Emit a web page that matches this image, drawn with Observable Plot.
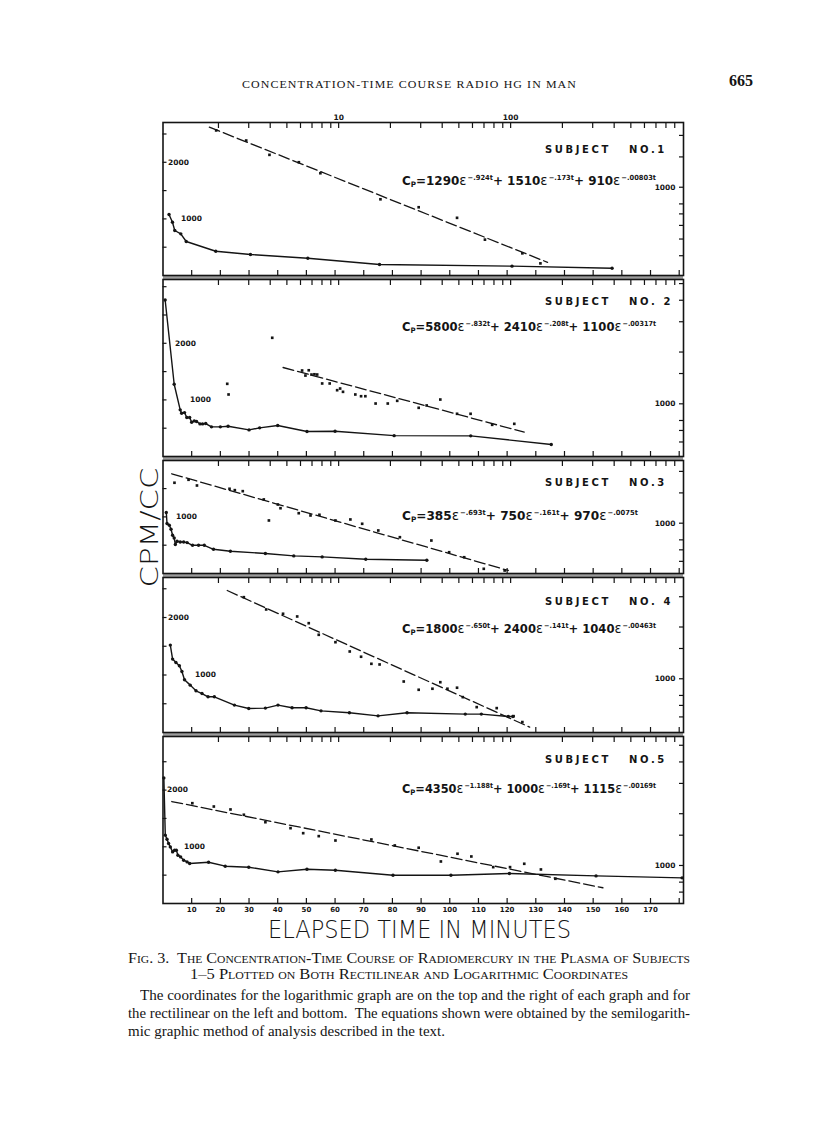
<!DOCTYPE html>
<html><head><meta charset="utf-8">
<script src="https://cdn.jsdelivr.net/npm/d3@7"></script>
<script src="https://cdn.jsdelivr.net/npm/@observablehq/plot@0.6"></script>
<style>
html,body{margin:0;padding:0;background:#fff;overflow:hidden;}
#page{position:relative;width:816px;height:1130px;overflow:hidden;color:#141414;font-family:"Liberation Serif",serif;}
#page svg{position:absolute;left:0;max-width:none;}
.t{position:absolute;white-space:nowrap;line-height:1;}
.eq sup{font-size:7px;vertical-align:0;position:relative;top:-5px;margin-left:1px;}
.eq sub{font-size:7.5px;vertical-align:0;position:relative;top:2px;}
.eq .ep{font-size:14px;font-weight:normal;}
</style></head>
<body><div id="page"></div>
<script>
// ---------- DATA ----------
// Rectilinear series (bottom x: minutes, left y: CPM/CC)
const lin1T = [2.1, 3.3, 4.1, 6.2, 8.1, 18.4, 30.5, 50.5, 75.5, 121.7, 156.6];
const lin1C = [1078, 941, 795, 736, 601, 429, 371, 306, 194, 165, 129];
const lin2T = [0.75, 3.9, 6.0, 6.5, 7.5, 8.3, 9.3, 10.0, 10.9, 11.7, 12.9, 13.8, 14.9, 16.9, 20.0, 22.7, 30.0, 33.7, 40.0, 50.2, 60.0, 80.6, 107.3, 135.4];
const lin2C = [2765, 1276, 824, 765, 776, 688, 688, 606, 629, 618, 576, 576, 582, 524, 524, 535, 470, 506, 547, 441, 447, 368, 365, 212];
const lin3T = [1.15, 1.4, 2.2, 2.8, 3.35, 3.9, 4.3, 4.9, 6.0, 7.2, 8.4, 10.3, 12.4, 14.4, 17.6, 23.5, 35.7, 45.6, 55.5, 70.7, 92.0];
const lin3C = [1078, 883, 852, 781, 675, 627, 511, 569, 557, 557, 546, 498, 498, 498, 428, 393, 353, 311, 293, 251, 233];
const lin4T = [2.55, 3.35, 4.5, 5.7, 6.6, 7.5, 9.5, 11.5, 13.6, 15.7, 17.9, 24.9, 29.9, 35.7, 40.1, 45.0, 49.9, 55.1, 65.0, 75.0, 85.1, 105.4, 111.0, 120.4, 122.0];
const lin4C = [1520, 1277, 1217, 1160, 1061, 917, 824, 725, 678, 621, 621, 477, 417, 424, 477, 430, 430, 377, 343, 290, 343, 320, 320, 278, 278];
const lin5T = [0.3, 0.8, 1.4, 1.95, 2.55, 3.35, 4.05, 4.65, 5.2, 6.15, 7.2, 8.4, 9.3, 15.9, 21.7, 29.9, 40.1, 50.2, 60.1, 80.2, 100.4, 120.8, 151.0, 181.0];
const lin5C = [2215, 1205, 1134, 1058, 998, 910, 940, 940, 852, 822, 764, 734, 705, 728, 658, 640, 558, 605, 587, 499, 499, 529, 487, 452];

// Logarithmic series (top x: minutes, log; right y: CPM/CC, log)
const log1T = [1.94, 2.90, 3.96, 5.87, 7.83, 17.5, 29.2, 48.8, 70.9, 117, 149];
const log1C = [2138, 1868, 1542, 1397, 1206, 851, 765, 664, 496, 413, 361];
const log2T = [2.25, 2.29, 4.11, 6.13, 6.41, 6.70, 6.95, 7.23, 7.50, 8.02, 8.87, 9.80, 10.2, 10.6, 12.5, 13.5, 14.3, 16.4, 19.3, 21.9, 29.2, 32.5, 39.0, 48.8, 58.5, 78.1, 105];
const log2C = [1307, 1133, 2420, 1562, 1460, 1567, 1479, 1485, 1480, 1313, 1313, 1200, 1227, 1174, 1133, 1107, 1107, 1004, 1004, 1041, 948, 978, 1059, 875, 875, 755, 765];
const log3T = [1.11, 1.34, 1.50, 2.32, 2.49, 2.77, 3.67, 3.93, 4.43, 4.59, 5.86, 6.86, 7.73, 9.58, 11.7, 13.7, 17.0, 22.7, 34.6, 43.9, 53.7, 69.8, 92.3];
const log3C = [1718, 1788, 1656, 1585, 1556, 1535, 1374, 1037, 1284, 1222, 1143, 1109, 1119, 1037, 1051, 992, 907, 829, 793, 678, 634, 543, 531];
const log4T = [2.81, 3.79, 4.75, 5.74, 6.70, 7.66, 9.58, 11.6, 13.5, 15.5, 17.3, 23.9, 29.2, 35.1, 39.0, 42.9, 48.8, 52.7, 63.5, 83.0, 104, 117];
const log4C = [2982, 2530, 2388, 2303, 2105, 1802, 1632, 1441, 1343, 1222, 1211, 964, 863, 875, 955, 875, 887, 782, 684, 675, 606, 560];
const log5T = [1.41, 1.88, 2.35, 2.81, 3.75, 5.25, 6.22, 7.66, 9.58, 15.5, 21.2, 29.2, 39.3, 49.1, 59.1, 79.2, 99.2, 120, 150, 182];
const log5C = [2302, 2202, 2117, 1972, 1785, 1648, 1541, 1481, 1397, 1416, 1307, 1268, 1055, 1170, 1128, 978, 978, 1023, 948, 837];

// Fitted (dashed) lines on the logarithmic coordinates: start and end
const fit1T = [1.77, 164], fit1C = [2234, 366];
const fit2T = [4.75, 120], fit2C = [1626, 684];
const fit3T = [1.07, 96.9], fit3C = [1937, 531];
const fit4T = [2.25, 129], fit4C = [3260, 523];
const fit5T = [1.07, 344], fit5C = [2354, 742];

// Equations
const subjectNames = ["SUBJECT NO.1", "SUBJECT NO. 2", "SUBJECT NO.3", "SUBJECT NO. 4", "SUBJECT NO.5"];
const eqCoef = [[1290, 1510, 910], [5800, 2410, 1100], [385, 750, 970], [1800, 2400, 1040], [4350, 1000, 1115]];
const eqRate = [[".924", ".173", ".00803"], [".832", ".208", ".00317"], [".693", ".161", ".0075"], [".650", ".141", ".00463"], ["1.188", ".169", ".00169"]];

// Axis ticks
const linTicksX = d3.range(10, 181, 10);
const linLabelsX = d3.range(10, 171, 10);
const logTicksX = [2,3,4,5,6,7,8,9,10,20,30,40,50,60,70,80,90,100,200,300,400,500,600,700,800,900];
const logLabelsX = [10, 100];
const logTicksY = [300,400,500,600,700,800,1000,1500,2000,3000,4000,5000];

// Text
const headerText = "CONCENTRATION-TIME COURSE RADIO HG IN MAN";
const pageNumber = "665";
const yTitle = "CPM/CC";
const xTitle = "ELAPSED TIME IN MINUTES";
const caption1 = "Fig. 3.&nbsp; The Concentration-Time Course of Radiomercury in the Plasma of Subjects";
const caption2 = "1–5 Plotted on Both Rectilinear and Logarithmic Coordinates";
const body = [
  "The coordinates for the logarithmic graph are on the top and the right of each graph and for",
  "the rectilinear on the left and bottom.&nbsp; The equations shown were obtained by the semilogarith-",
  "mic graphic method of analysis described in the text."
];

// ---------- LAYOUT ----------
const W = 816, ML = 162.5, MR = 133, MT = 20, MB = 24;
const panels = [
  {top:122, bottom:275, linMax:2703, logMin:307, logMax:2377, labs:[[2000,5],[1000,18]], subjY:149, eqY:178},
  {top:279, bottom:456, linMax:3127, logMin:494, logMax:5281, labs:[[2000,12],[1000,27]], subjY:301, eqY:324},
  {top:460, bottom:573, linMax:1996, logMin:510, logMax:2314, labs:[[1000,13]], subjY:482, eqY:513},
  {top:577, bottom:732, linMax:2696, logMin:487, logMax:3881, labs:[[2000,5],[1000,32]], subjY:601, eqY:626},
  {top:736, bottom:903, linMax:2945, logMin:601, logMax:5623, labs:[[2000,4],[1000,21]], subjY:759, eqY:786}
];
const linSeries = [[lin1T,lin1C],[lin2T,lin2C],[lin3T,lin3C],[lin4T,lin4C],[lin5T,lin5C]];
const logSeries = [[log1T,log1C],[log2T,log2C],[log3T,log3C],[log4T,log4C],[log5T,log5C]];
const fitSeries = [[fit1T,fit1C],[fit2T,fit2C],[fit3T,fit3C],[fit4T,fit4C],[fit5T,fit5C]];

const ink = "#141414";
const page = document.getElementById("page");
const zip = (T, C) => T.map((t, i) => ({t, c: C[i]}));
const labFont = {fontFamily: "DejaVu Sans, sans-serif", fontWeight: "bold", fontSize: 7.5, fill: ink};
const blank = () => "";

function addText(html, css, cls = "t") {
  const d = document.createElement("div");
  d.className = cls;
  d.innerHTML = html;
  Object.assign(d.style, css);
  page.appendChild(d);
  return d;
}
function fitWidth(el, w) {
  const r = el.getBoundingClientRect().width;
  el.style.transformOrigin = "left center";
  el.style.transform = `scaleX(${w / r})`;
}

// separator bands between panels
for (let i = 0; i < panels.length - 1; i++) {
  const a = panels[i].bottom, b = panels[i + 1].top;
  addText("", {left: ML + "px", top: a + "px", width: (W - MR - ML) + "px", height: (b - a) + "px", background: "#9c9c9c"});
}

panels.forEach((p, i) => {
  const h = p.bottom - p.top + MT + MB;
  const lin = zip(...linSeries[i]);
  const logd = zip(...logSeries[i]);
  const fit = zip(...fitSeries[i]);
  const last = i === panels.length - 1;

  const linPlot = Plot.plot({
    width: W, height: h, marginLeft: ML, marginRight: MR, marginTop: MT, marginBottom: MB,
    style: {background: "transparent", overflow: "visible", fontFamily: "DejaVu Sans, sans-serif"},
    x: {type: "linear", domain: [0, 181.5]},
    y: {type: "linear", domain: [0, p.linMax]},
    marks: [
      Plot.axisX(linTicksX, {anchor: "bottom", tickSize: -5, tickFormat: blank, label: null, stroke: ink, strokeWidth: 1.2}),
      Plot.axisY(d3.range(500, p.linMax, 500), {anchor: "left", tickSize: -4, tickFormat: blank, label: null, stroke: ink, strokeWidth: 1.2}),
      ...p.labs.map(([v, dx]) => Plot.text([v], {y: d => d, text: d => String(d), frameAnchor: "left", textAnchor: "start", dx, ...labFont})),
      last ? Plot.text(linLabelsX, {x: d => d, text: d => String(d), frameAnchor: "bottom", dy: 8, ...labFont, fontSize: 7}) : null,
      Plot.line(lin, {x: "t", y: "c", stroke: ink, strokeWidth: 1.4}),
      Plot.dot(lin, {x: "t", y: "c", r: 1.7, fill: ink}),
      Plot.frame({stroke: ink, strokeWidth: 1.6})
    ]
  });
  linPlot.style.top = (p.top - MT) + "px";
  page.appendChild(linPlot);

  const logPlot = Plot.plot({
    width: W, height: h, marginLeft: ML, marginRight: MR, marginTop: MT, marginBottom: MB,
    style: {background: "transparent", overflow: "visible", fontFamily: "DejaVu Sans, sans-serif"},
    x: {type: "log", domain: [0.952, 1012]},
    y: {type: "log", domain: [p.logMin, p.logMax]},
    marks: [
      Plot.axisX(logTicksX, {anchor: "top", tickSize: -5, tickFormat: blank, label: null, stroke: ink, strokeWidth: 1.2}),
      Plot.axisY(logTicksY.filter(v => v > p.logMin * 1.05 && v < p.logMax * 0.95), {anchor: "right", tickSize: -5, tickFormat: blank, label: null, stroke: ink, strokeWidth: 1.2}),
      Plot.text([1000], {y: d => d, text: d => String(d), frameAnchor: "right", textAnchor: "end", dx: -8, ...labFont}),
      i === 0 ? Plot.text(logLabelsX, {x: d => d, text: d => String(d), frameAnchor: "top", lineAnchor: "bottom", dy: -3, ...labFont}) : null,
      Plot.line(fit, {x: "t", y: "c", stroke: ink, strokeWidth: 1.3, strokeDasharray: "11,4"}),
      Plot.dot(logd, {x: "t", y: "c", symbol: "square", r: 1.5, fill: ink})
    ]
  });
  logPlot.style.top = (p.top - MT) + "px";
  page.appendChild(logPlot);

  // annotations
  const name = subjectNames[i].replace(/ NO/, "&nbsp;&nbsp;&nbsp;NO");
  addText(name, {left: "545px", top: (p.subjY - 5) + "px", font: "bold 10px 'DejaVu Sans', sans-serif", letterSpacing: "2.6px"});
  const terms = eqCoef[i].map((c, k) => `${c}<span class="ep">ε</span><sup>−${eqRate[i][k]}t</sup>`).join("+ ");
  const e = addText(`C<sub>P</sub>=${terms}`, {left: "402px", top: (p.eqY - 6) + "px", font: "bold 12.5px 'DejaVu Sans Condensed', 'DejaVu Sans', sans-serif"}, "t eq");
  fitWidth(e, i === 2 ? 236 : 254);
});

// page furniture
const hd = addText(headerText, {left: "242px", top: "78px", font: "11px 'Liberation Serif', serif", letterSpacing: "1px"});
fitWidth(hd, 335);
addText(pageNumber, {left: "729px", top: "72px", font: "bold 16px 'Liberation Serif', serif"});

const yt = addText(yTitle, {font: "300 25px 'DejaVu Sans', sans-serif"});
const ytw = yt.getBoundingClientRect().width, yth = yt.getBoundingClientRect().height;
yt.style.left = (150 - ytw / 2) + "px";
yt.style.top = (527 - yth / 2) + "px";
yt.style.transform = `rotate(-90deg) scaleX(${120 / ytw})`;

const xt = addText(xTitle, {left: "268px", top: "916px", font: "300 24px 'DejaVu Sans', sans-serif"});
fitWidth(xt, 303);

const c1 = addText(caption1, {left: "128px", top: "951px", font: "14px 'Liberation Serif', serif", fontVariant: "small-caps"});
fitWidth(c1, 562);
const c2 = addText(caption2, {left: "190px", top: "967px", font: "14px 'Liberation Serif', serif", fontVariant: "small-caps"});
fitWidth(c2, 438);
const b1 = addText(body[0], {left: "140px", top: "987px", font: "15px 'Liberation Serif', serif"});
fitWidth(b1, 550);
const b2 = addText(body[1], {left: "128px", top: "1005px", font: "15px 'Liberation Serif', serif"});
fitWidth(b2, 562);
addText(body[2], {left: "128px", top: "1023px", font: "15px 'Liberation Serif', serif"});
</script>
</body></html>
